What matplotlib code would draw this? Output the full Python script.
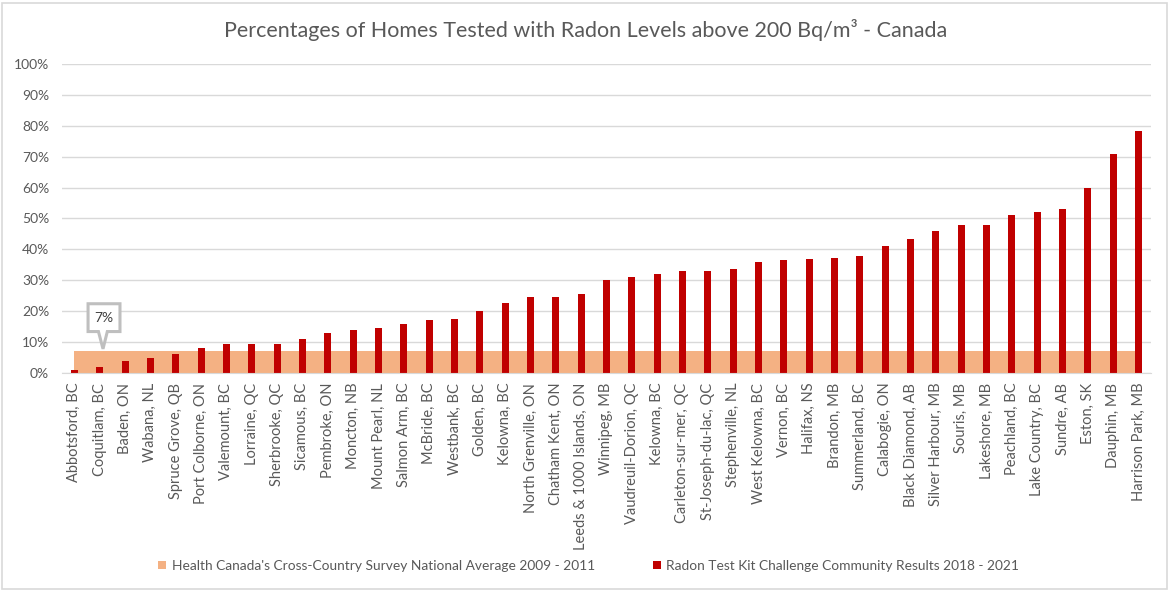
import matplotlib
matplotlib.use("Agg")
import matplotlib.pyplot as plt
import numpy as np
from matplotlib.patches import Polygon, Rectangle
from matplotlib.ticker import FuncFormatter, MultipleLocator

plt.rcParams['font.family'] = ['Lato', 'DejaVu Sans']

communities = [
    "Abbotsford, BC", "Coquitlam, BC", "Baden, ON", "Wabana, NL", "Spruce Grove, QB",
    "Port Colborne, ON", "Valemount, BC", "Lorraine, QC", "Sherbrooke, QC", "Sicamous, BC",
    "Pembroke, ON", "Moncton, NB", "Mount Pearl, NL", "Salmon Arm, BC", "McBride, BC",
    "Westbank, BC", "Golden, BC", "Kelowna, BC", "North Grenville, ON", "Chatham Kent, ON",
    "Leeds & 1000 Islands, ON", "Winnipeg, MB", "Vaudreuil-Dorion, QC", "Kelowna, BC",
    "Carleton-sur-mer, QC", "St-Joseph-du-lac, QC", "Stephenville, NL", "West Kelowna, BC",
    "Vernon, BC", "Halifax, NS", "Brandon, MB", "Summerland, BC", "Calabogie, ON",
    "Black Diamond, AB", "Silver Harbour, MB", "Souris, MB", "Lakeshore, MB", "Peachland, BC",
    "Lake Country, BC", "Sundre, AB", "Eston, SK", "Dauphin, MB", "Harrison Park, MB",
]
percent_above = [
    1, 2, 4, 5, 6, 8, 9.5, 9.5, 9.5, 11,
    13, 14, 14.5, 16, 17, 17.5, 20, 22.5, 24.5, 24.5,
    25.5, 30, 31, 32, 33, 33, 33.5, 36, 36.5, 37,
    37.3, 38, 41, 43.5, 46, 48, 48, 51, 52, 53,
    60, 71, 78.3,
]
national_avg = 7
avg_label = "Health Canada's Cross-Country Survey National Average 2009 - 2011"
kit_label = "Radon Test Kit Challenge Community Results 2018 - 2021"

text_col = "#595959"
grid_col = "#D9D9D9"
band_col = "#F4B183"
bar_col = "#C00000"

fig = plt.figure(figsize=(11.71, 5.92), dpi=100)
ax = fig.add_axes([0.0527, 0.37, 0.9303, 0.522])

x = np.arange(len(communities))
ax.fill_between([x[0], x[-1]], national_avg, color=band_col, linewidth=0,
                label=avg_label, zorder=1)
ax.bar(x, percent_above, width=0.28, color=bar_col, label=kit_label, zorder=2)

ax.set_xlim(-0.5, len(communities) - 0.5)
ax.set_ylim(0, 100)
ax.yaxis.set_major_locator(MultipleLocator(10))
ax.yaxis.set_major_formatter(FuncFormatter(lambda v, p: f"{v:.0f}%"))
ax.set_xticks(x)
ax.set_xticklabels(communities, rotation=90)
ax.tick_params(length=0, colors=text_col)
ax.tick_params(axis="x", labelsize=10.5, pad=7)
ax.tick_params(axis="y", labelsize=10, pad=9)
ax.grid(axis='y', color=grid_col, linewidth=1)
ax.set_axisbelow(True)
for side in ["top", "right", "left"]:
    ax.spines[side].set_visible(False)
ax.spines["bottom"].set_color(grid_col)

# callout for the national average
cx0, cx1 = 0.54, 1.8
cy0, cy1 = national_avg + 6.4, national_avg + 15.4
callout = Polygon([(cx0, cy0), (cx0, cy1), (cx1, cy1), (cx1, cy0), (1.3, cy0),
                   (1.13, national_avg + 0.8), (0.95, cy0)],
                  closed=True, facecolor="white", edgecolor="#BFBFBF",
                  linewidth=2.2, zorder=5, clip_on=False)
ax.add_patch(callout)
ax.text((cx0 + cx1) / 2, (cy0 + cy1) / 2, f"{national_avg}%", ha="center", va="center",
        fontsize=10, color="#404040", zorder=6)

fig.suptitle("Percentages of Homes Tested with Radon Levels above 200 Bq/m³ - Canada",
             x=0.5, y=0.968, fontsize=15.5, color=text_col)

fig.legend(loc="center", bbox_to_anchor=(0.5026, 0.044), ncol=2, frameon=False,
           fontsize=9.9, handlelength=0.6, handleheight=0.6, columnspacing=4.2,
           handletextpad=0.4, labelcolor=text_col)

fig.patches.append(Rectangle((0.002, 0.005), 0.995, 0.99, transform=fig.transFigure,
                             fill=False, edgecolor="#D9D9D9", linewidth=1.2))

fig.savefig("out.png", dpi=100)
